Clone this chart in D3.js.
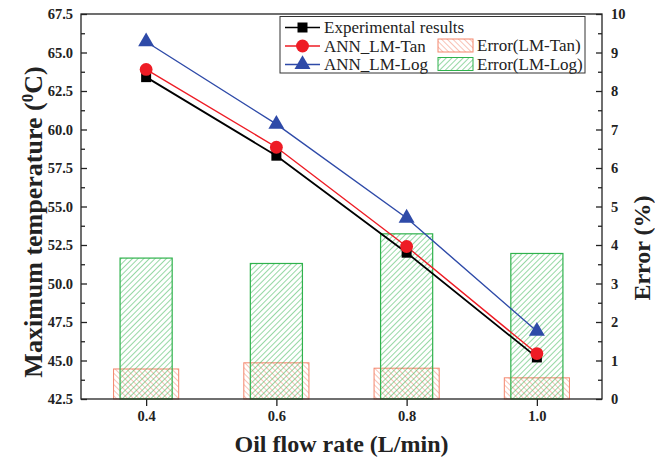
<!DOCTYPE html>
<html>
<head>
<meta charset="utf-8">
<script src="https://cdn.jsdelivr.net/npm/d3@7/dist/d3.min.js"></script>
<style>
  html, body { margin: 0; padding: 0; background: #fff; }
  svg { display: block; }
  text { font-family: "Liberation Serif", "Times New Roman", serif; }
</style>
</head>
<body>
<svg id="chart" width="655" height="459"></svg>
<script>
// Oil flow rate categories (L/min)
const flowRates = [0.4, 0.6, 0.8, 1.0];
const flowTickLabels = ["0.4", "0.6", "0.8", "1.0"];

// Maximum temperature (°C)
const experimental = [63.4, 58.3, 52.0, 45.2];
const annTan = [63.9, 58.85, 52.4, 45.45];
const annLog = [65.7, 60.35, 54.25, 46.9];

// Prediction error (%)
const errorTan = [0.78, 0.94, 0.8, 0.55];
const errorLog = [3.66, 3.52, 4.29, 3.78];

// Axis ticks
const tempTicks = [42.5, 45.0, 47.5, 50.0, 52.5, 55.0, 57.5, 60.0, 62.5, 65.0, 67.5];
const errorTicks = [0, 1, 2, 3, 4, 5, 6, 7, 8, 9, 10];

const svg = d3.select("#chart");
const plot = { left: 81, right: 602, top: 14, bottom: 399 };
const serif = '"Liberation Serif", "Times New Roman", serif';

const x = d3.scaleLinear().domain([0.3, 1.1]).range([plot.left, plot.right]);
const yT = d3.scaleLinear().domain([42.5, 67.5]).range([plot.bottom, plot.top]);
const yE = d3.scaleLinear().domain([0, 10]).range([plot.bottom, plot.top]);

const colors = {
  exp: "#000000",
  tan: "#ee1c25",
  log: "#2e4aa8",
  errTan: "#f4866c",
  errLog: "#2fb24c"
};

// Hatch patterns for the error bars
const defs = svg.append("defs");
function hatch(id, color, dir) {
  const p = defs.append("pattern")
    .attr("id", id)
    .attr("patternUnits", "userSpaceOnUse")
    .attr("width", 4).attr("height", 4)
    .attr("patternTransform", `rotate(${dir})`);
  p.append("line")
    .attr("x1", 0).attr("y1", 0).attr("x2", 0).attr("y2", 4)
    .attr("stroke", color).attr("stroke-width", 1);
}
hatch("hatchTan", colors.errTan, -45);
hatch("hatchLog", colors.errLog, 45);

// Error bars (right axis)
const wideW = x(0.4 + 0.1) - x(0.4);
const narrowW = x(0.4 + 0.08) - x(0.4);

svg.append("g").selectAll("rect")
  .data(flowRates.map((f, i) => ({ f, v: errorTan[i] })))
  .join("rect")
  .attr("x", d => x(d.f) - wideW / 2)
  .attr("y", d => yE(d.v))
  .attr("width", wideW)
  .attr("height", d => yE(0) - yE(d.v))
  .attr("fill", "url(#hatchTan)")
  .attr("stroke", colors.errTan)
  .attr("stroke-width", 1);

svg.append("g").selectAll("rect")
  .data(flowRates.map((f, i) => ({ f, v: errorLog[i] })))
  .join("rect")
  .attr("x", d => x(d.f) - narrowW / 2)
  .attr("y", d => yE(d.v))
  .attr("width", narrowW)
  .attr("height", d => yE(0) - yE(d.v))
  .attr("fill", "url(#hatchLog)")
  .attr("stroke", colors.errLog)
  .attr("stroke-width", 1.2);

// Temperature series (left axis)
const line = d3.line().x(d => x(d.f)).y(d => yT(d.v));
const series = [
  { key: "log", vals: annLog, color: colors.log, width: 1.4 },
  { key: "tan", vals: annTan, color: colors.tan, width: 1.4 },
  { key: "exp", vals: experimental, color: colors.exp, width: 1.8 }
];
series.forEach(s => {
  const pts = flowRates.map((f, i) => ({ f, v: s.vals[i] }));
  svg.append("path").datum(pts)
    .attr("d", line)
    .attr("fill", "none")
    .attr("stroke", s.color)
    .attr("stroke-width", s.width);
});

const sqSym = d3.symbol().type(d3.symbolSquare).size(100);
const ciSym = d3.symbol().type(d3.symbolCircle).size(130);
const trSym = d3.symbol().type(d3.symbolTriangle).size(110);

function markers(vals, sym, color) {
  svg.append("g").selectAll("path")
    .data(flowRates.map((f, i) => ({ f, v: vals[i] })))
    .join("path")
    .attr("transform", d => `translate(${x(d.f)},${yT(d.v)})`)
    .attr("d", sym)
    .attr("fill", color);
}
markers(experimental, sqSym, colors.exp);
markers(annTan, ciSym, colors.tan);
markers(annLog, trSym, colors.log);

// Frame
svg.append("rect")
  .attr("x", plot.left).attr("y", plot.top)
  .attr("width", plot.right - plot.left)
  .attr("height", plot.bottom - plot.top)
  .attr("fill", "none").attr("stroke", "#222").attr("stroke-width", 1.3);

// Axes
const tickFont = g => {
  g.attr("font-family", null).attr("font-size", null);
  g.selectAll("text")
    .attr("font-family", serif)
    .attr("font-weight", "bold")
    .attr("font-size", "14.5px")
    .attr("fill", "#222");
};

const xAxis = svg.append("g")
  .attr("transform", `translate(0,${plot.bottom})`)
  .call(d3.axisBottom(x).tickValues(flowRates)
    .tickFormat((d, i) => flowTickLabels[i]).tickSize(7).tickPadding(5));
xAxis.call(tickFont);

const leftAxis = svg.append("g")
  .attr("transform", `translate(${plot.left},0)`)
  .call(d3.axisLeft(yT).tickValues(tempTicks).tickFormat(d3.format(".1f"))
    .tickSize(-6).tickPadding(8));
leftAxis.call(tickFont);

const leftMinor = svg.append("g")
  .attr("transform", `translate(${plot.left},0)`)
  .call(d3.axisLeft(yT).tickValues(d3.range(43.75, 67.5, 2.5)).tickFormat("").tickSize(-4));

const rightAxis = svg.append("g")
  .attr("transform", `translate(${plot.right},0)`)
  .call(d3.axisRight(yE).tickValues(errorTicks).tickFormat(d3.format("d"))
    .tickSize(-6).tickPadding(9));
rightAxis.call(tickFont);

const rightMinor = svg.append("g")
  .attr("transform", `translate(${plot.right},0)`)
  .call(d3.axisRight(yE).tickValues(d3.range(0.5, 10, 1)).tickFormat("").tickSize(-4));

[xAxis, leftAxis, leftMinor, rightAxis, rightMinor].forEach(g => {
  g.select(".domain").remove();
  g.selectAll("line").attr("stroke", "#222").attr("stroke-width", 1.3);
});

// Axis titles
svg.append("text")
  .attr("x", (plot.left + plot.right) / 2)
  .attr("y", 452)
  .attr("text-anchor", "middle")
  .attr("font-weight", "bold")
  .attr("font-size", "24px")
  .attr("fill", "#222")
  .text("Oil flow rate (L/min)");

const yTitle = svg.append("text")
  .attr("transform", "translate(42,222) rotate(-90)")
  .attr("text-anchor", "middle")
  .attr("font-weight", "bold")
  .attr("font-size", "26px")
  .attr("fill", "#222");
yTitle.append("tspan").text("Maximum temperature (");
yTitle.append("tspan").attr("baseline-shift", "super").attr("font-size", "17px").text("0");
yTitle.append("tspan").text("C)");

svg.append("text")
  .attr("transform", "translate(650,248) rotate(-90)")
  .attr("text-anchor", "middle")
  .attr("font-weight", "bold")
  .attr("font-size", "24px")
  .attr("fill", "#222")
  .text("Error (%)");

// Legend
const legend = svg.append("g");
legend.append("rect")
  .attr("x", 280).attr("y", 16.5).attr("width", 305).attr("height", 56.5)
  .attr("fill", "#fff").attr("stroke", "#333").attr("stroke-width", 1);

const lineItems = [
  { label: "Experimental results", color: colors.exp, sym: sqSym, y: 27.5 },
  { label: "ANN_LM-Tan", color: colors.tan, sym: ciSym, y: 46 },
  { label: "ANN_LM-Log", color: colors.log, sym: trSym, y: 64.5 }
];
lineItems.forEach(it => {
  legend.append("line")
    .attr("x1", 285).attr("x2", 320).attr("y1", it.y).attr("y2", it.y)
    .attr("stroke", it.color).attr("stroke-width", 1.5);
  legend.append("path")
    .attr("transform", `translate(302.5,${it.y})`)
    .attr("d", it.sym).attr("fill", it.color);
  legend.append("text")
    .attr("x", 324).attr("y", it.y + 5.5)
    .attr("font-size", "17px").attr("fill", "#222")
    .text(it.label);
});

const barItems = [
  { label: "Error(LM-Tan)", color: colors.errTan, fill: "url(#hatchTan)", y: 45.5 },
  { label: "Error(LM-Log)", color: colors.errLog, fill: "url(#hatchLog)", y: 64 }
];
barItems.forEach(it => {
  legend.append("rect")
    .attr("x", 438).attr("y", it.y - 6.5).attr("width", 35).attr("height", 13)
    .attr("fill", it.fill).attr("stroke", it.color).attr("stroke-width", 1);
  legend.append("text")
    .attr("x", 477).attr("y", it.y + 5.5)
    .attr("font-size", "17px").attr("fill", "#222")
    .text(it.label);
});
</script>
</body>
</html>
